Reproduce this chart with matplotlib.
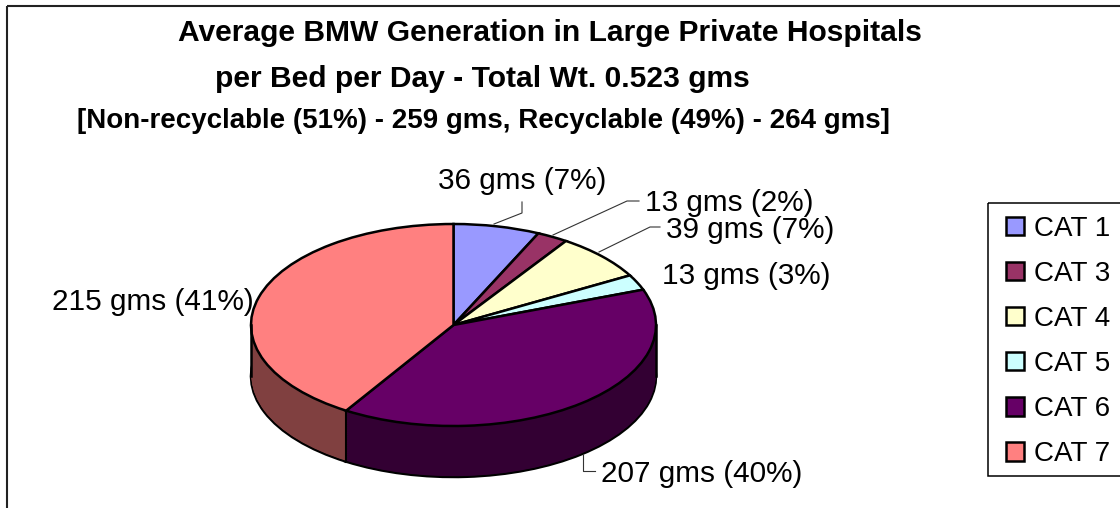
import numpy as np
import matplotlib
matplotlib.use('Agg')
import matplotlib.pyplot as plt
from matplotlib.colors import to_rgb
from matplotlib.patches import Rectangle

plt.rcParams['font.family'] = ['Liberation Sans', 'DejaVu Sans']

categories = ['CAT 1', 'CAT 3', 'CAT 4', 'CAT 5', 'CAT 6', 'CAT 7']
grams = [36, 13, 39, 13, 207, 215]
percents = [7, 2, 7, 3, 40, 41]
colors = ['#9999FF', '#993366', '#FFFFCC', '#CCFFFF', '#660066', '#FF8080']
title_lines = ['Average BMW Generation in Large Private Hospitals',
               'per Bed per Day - Total Wt. 0.523 gms',
               '[Non-recyclable (51%) - 259 gms, Recyclable (49%) - 264 gms]']

W, H = 1120, 508
cx, cy, rx, ry = 453.5, 325, 202.5, 101
depth = 51 / ry

fig = plt.figure(figsize=[W / 100, H / 100], dpi=100, facecolor='white')

# pie axes: one data unit is the radius, squashed to an ellipse
ax = fig.add_axes([0, 0, 1, 1])
wall_colors = [tuple(c * 0.5 for c in to_rgb(col)) for col in colors]
pie_args = dict(startangle=90, counterclock=False)
ax.pie(grams, colors=wall_colors, center=(0, -depth), radius=1,
       wedgeprops=dict(edgecolor='black', linewidth=1.8), **pie_args)
for off in np.linspace(depth, 0, 80)[1:-1]:
    ax.pie(grams, colors=wall_colors, center=(0, -off), radius=0.998,
           wedgeprops=dict(edgecolor='none', linewidth=0), **pie_args)
wedges, _ = ax.pie(grams, colors=colors, center=(0, 0), radius=1,
                   wedgeprops=dict(edgecolor='black', linewidth=1.8), **pie_args)

# vertical edges of the wall
ang = np.cumsum(grams) / np.sum(grams) * 2 * np.pi
split = ang[4]
ax.plot([np.sin(split)] * 2, [np.cos(split), np.cos(split) - depth], color='black', lw=1.5)
ax.plot([-1, -1], [0, -depth], color='black', lw=1.8)
ax.plot([1, 1], [0, -depth], color='black', lw=1.8)

ax.set_aspect('auto')
ax.set_xlim((0 - cx) / rx, (W - cx) / rx)
ax.set_ylim((cy - H) / ry, cy / ry)
ax.axis('off')

# overlay in image pixels for the text, leaders, frame and legend
ov = fig.add_axes([0, 0, 1, 1], facecolor='none')
ov.set_xlim(0, W)
ov.set_ylim(H, 0)
ov.axis('off')

ov.add_patch(Rectangle((6.5, 6), W, H, fill=False, edgecolor='#222222', lw=1.5))
ov.add_patch(Rectangle((988, 203), W, 273, fill=False, edgecolor='black', lw=1.1))

ov.text(549.5, 33, title_lines[0], fontsize=21.65, fontweight='bold', ha='center', va='center')
ov.text(482.5, 79, title_lines[1], fontsize=21.65, fontweight='bold', ha='center', va='center')
ov.text(483, 120.5, title_lines[2], fontsize=20, fontweight='bold', ha='center', va='center')

label_pos = [(438, 181), (645, 203), (666, 230), (662, 276), (601, 474), (52, 302)]
for g, p, (x, y) in zip(grams, percents, label_pos):
    ov.text(x, y, f'{g} gms ({p}%)', fontsize=21.4, ha='left', va='center', color='black')

leaders = [([494, 522, 522], [224, 213, 202]),
           ([553, 627, 639], [235, 201, 201]),
           ([599, 650, 660], [252, 227, 227]),
           ([583, 583, 595], [455, 471, 471])]
for xs, ys in leaders:
    ov.plot(xs, ys, color='#333333', lw=0.8)

ov.legend(wedges, categories, loc='upper left', bbox_to_anchor=(1006, 215.5),
          bbox_transform=ov.transData, frameon=False, borderpad=0, borderaxespad=0,
          fontsize=20, labelspacing=0.69, handlelength=0.64, handleheight=0.64,
          handletextpad=0.36)

fig.savefig('out.png', dpi=100)
